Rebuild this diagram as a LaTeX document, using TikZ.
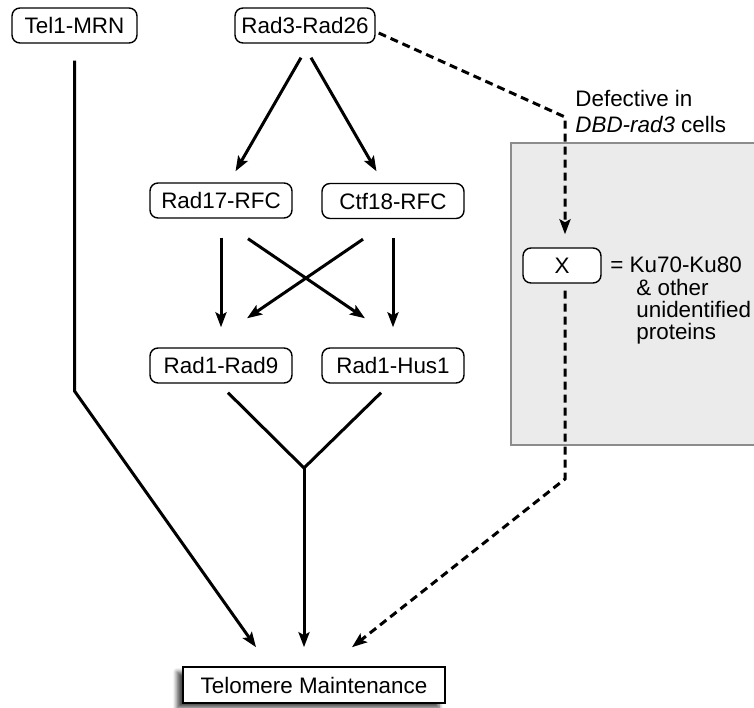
\documentclass[tikz,border=0pt]{standalone}
\usepackage{fontspec}
\setmainfont{Liberation Sans}
\usetikzlibrary{arrows.meta,shadows.blur}

\begin{document}
\begin{tikzpicture}[
    x=0.5pt, y=-0.5pt,
    >={Stealth[length=7.5pt,width=5.5pt,inset=1.5pt]},
    font=\fontsize{11.2}{13}\selectfont,
    prot/.style={draw, line width=0.7pt, rounded corners=4pt, minimum height=17.5pt, minimum width=71pt, inner sep=0pt},
    arr/.style={->, line width=1.5pt},
    darr/.style={->, line width=1.5pt, dash pattern=on 4pt off 2.5pt},
    note/.style={align=left, inner sep=0pt}
]
    \useasboundingbox (0,0) rectangle (754,707);

    % shaded region for X
    \fill[black!8] (511,143) rectangle (754,445);
    \draw[black!45, line width=0.8pt] (754,143) -- (511,143) -- (511,445) -- (754,445);

    \node[prot, minimum width=62.5pt] (tel) at (74.5,25.5) {Tel1-MRN};
    \node[prot, minimum width=70pt] (rad3) at (305,25.5) {Rad3-Rad26};
    \node[prot] (rad17) at (221,200.5) {Rad17-RFC};
    \node[prot] (ctf18) at (393,201) {Ctf18-RFC};
    \node[prot] (rad9) at (221,365.5) {Rad1-Rad9};
    \node[prot] (hus1) at (393,365.5) {Rad1-Hus1};
    \node[prot, minimum width=39pt, fill=white] (xprot) at (562,265.5) {X};
    \node[draw, line width=0.8pt, minimum width=131pt, minimum height=18pt, fill=white,
          blur shadow={shadow xshift=-3pt, shadow yshift=-2.5pt, shadow blur steps=6, shadow opacity=70}] (telo) at (314,685) {Telomere Maintenance};

    \node[note, anchor=north west] (defect) at (575,90) {Defective in\\\textit{DBD-rad3} cells};
    \node[note, anchor=base west] (kuname) at (610,272) {= Ku70-Ku80};
    \node[note, anchor=north west, font=\fontsize{11.2}{11}\selectfont] (kumore) at (636,279) {\& other\\unidentified\\proteins};

    \coordinate (telbend) at (74.5,391);
    \coordinate (join) at (304,468);
    \coordinate (dbend1) at (565,117);
    \coordinate (dbend2) at (565,479);

    % Rad3 branch
    \draw[arr] ([xshift=-2pt,yshift=-7pt]rad3.south) -- ([xshift=7.25pt,yshift=5.5pt]rad17.north);
    \draw[arr] ([xshift=3pt,yshift=-7pt]rad3.south) -- ([xshift=-8.25pt,yshift=5.75pt]ctf18.north);
    \draw[arr] ([yshift=-9.5pt]rad17.south) -- ([yshift=10pt]rad9.north);
    \draw[arr] ([yshift=-9.5pt]ctf18.south) -- ([yshift=10pt]hus1.north);
    \draw[arr] ([xshift=13.5pt,yshift=-10pt]rad17.south) -- ([xshift=-14pt,yshift=14.5pt]hus1.north);
    \draw[arr] ([xshift=-15pt,yshift=-10pt]ctf18.south) -- ([xshift=13pt,yshift=14.5pt]rad9.north);
    \draw[line width=1.5pt] ([xshift=3.5pt,yshift=-4.5pt]rad9.south) -- (join) -- ([xshift=-6pt,yshift=-4.5pt]hus1.south);
    \draw[arr] (join) -- ([xshift=-5pt,yshift=9.5pt]telo.north);

    % Tel1 branch
    \draw[arr] ([yshift=-8.5pt]tel.south) -- (telbend) -- ([xshift=-29pt,yshift=9.5pt]telo.north);

    % X branch
    \draw[darr] ([xshift=1.5pt,yshift=-3.75pt]rad3.east) -- (dbend1) -- ([xshift=1.5pt,yshift=6.5pt]xprot.north);
    \draw[darr] ([xshift=1.5pt,yshift=-3.5pt]xprot.south) -- (dbend2) -- ([xshift=19pt,yshift=9.5pt]telo.north);
\end{tikzpicture}
\end{document}
